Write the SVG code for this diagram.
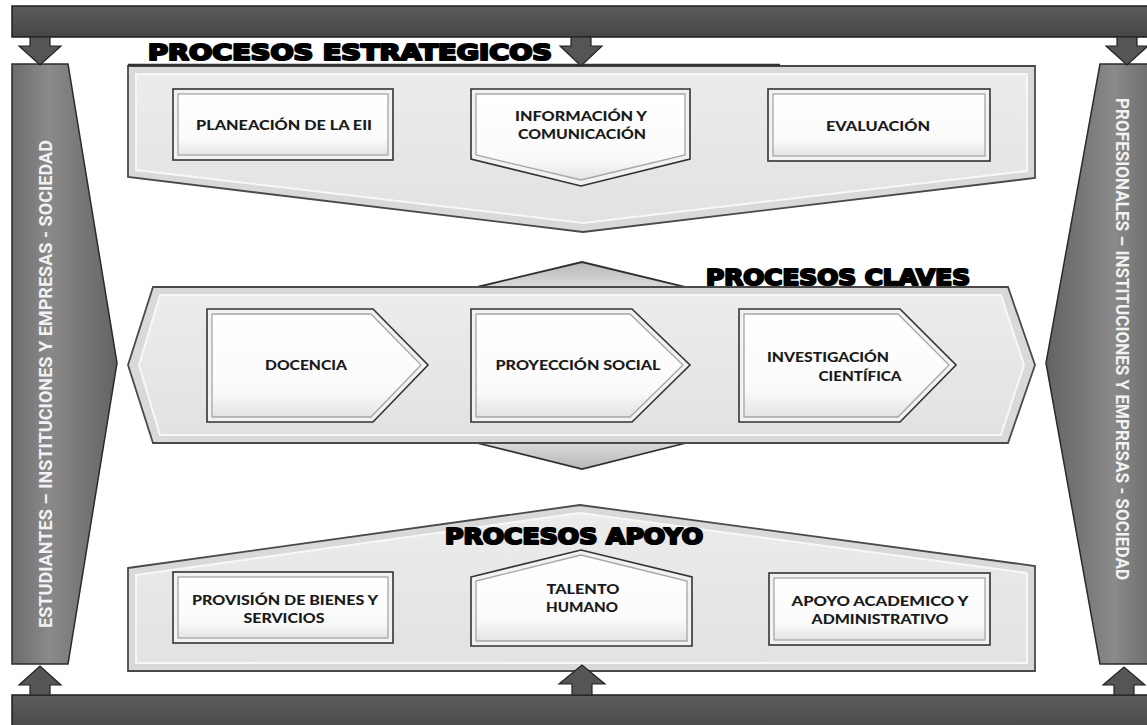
<svg xmlns="http://www.w3.org/2000/svg" width="1147" height="725" viewBox="0 0 1147 725">
  <defs>
    <linearGradient id="barFill" x1="0" y1="0" x2="0" y2="1">
      <stop offset="0" stop-color="#5c5c5c"/>
      <stop offset="1" stop-color="#464646"/>
    </linearGradient>
    <linearGradient id="bannerFillL" x1="0" y1="0" x2="1" y2="0">
      <stop offset="0" stop-color="#6c6c6c"/>
      <stop offset="0.35" stop-color="#8a8a8a"/>
      <stop offset="1" stop-color="#636363"/>
    </linearGradient>
    <linearGradient id="bannerFillR" x1="1" y1="0" x2="0" y2="0">
      <stop offset="0" stop-color="#6c6c6c"/>
      <stop offset="0.35" stop-color="#8a8a8a"/>
      <stop offset="1" stop-color="#636363"/>
    </linearGradient>
    <linearGradient id="panelFace" x1="0" y1="0" x2="0" y2="1">
      <stop offset="0" stop-color="#ececec"/>
      <stop offset="1" stop-color="#e2e2e2"/>
    </linearGradient>
    <linearGradient id="boxFace" x1="0" y1="0" x2="0" y2="1">
      <stop offset="0" stop-color="#ffffff"/>
      <stop offset="0.75" stop-color="#fafafa"/>
      <stop offset="1" stop-color="#e4e4e4"/>
    </linearGradient>
    <linearGradient id="wingFill" x1="0" y1="0" x2="0" y2="1">
      <stop offset="0" stop-color="#b8b8b8"/>
      <stop offset="1" stop-color="#dcdcdc"/>
    </linearGradient>
    <linearGradient id="wingFillDown" x1="0" y1="1" x2="0" y2="0">
      <stop offset="0" stop-color="#b8b8b8"/>
      <stop offset="1" stop-color="#dcdcdc"/>
    </linearGradient>
    <style>
      .bar { fill: url(#barFill); stroke: #1e1e1e; stroke-width: 1.5; }
      .arrow { fill: #555555; stroke: #222222; stroke-width: 1.2; }
      .banner-l { fill: url(#bannerFillL); stroke: #2a2a2a; stroke-width: 1.5; }
      .banner-r { fill: url(#bannerFillR); stroke: #2a2a2a; stroke-width: 1.5; }
      .banner-text { font-family: Roboto, "Open Sans", "Liberation Sans", sans-serif; font-weight: 700; font-size: 18px; fill: #f2f2f2; }
      .panel { fill: #d9d9d9; stroke: #4a4a4a; stroke-width: 1.8; }
      .panel-inner { fill: url(#panelFace); stroke: #f7f7f7; stroke-width: 2; }
      .wing { stroke: #2e2e2e; stroke-width: 1.8; }
      .box { fill: #f2f2f2; stroke: #333333; stroke-width: 1.6; }
      .box-inner { fill: url(#boxFace); stroke: #a6a6a6; stroke-width: 1.3; }
      .title { font-family: "DejaVu Sans", "Liberation Sans", sans-serif; font-weight: 700; font-size: 22px; fill: #000000; stroke: #000000; stroke-width: 2.2; stroke-linejoin: round; }
      .label { font-family: Lato, "Open Sans", "Liberation Sans", sans-serif; font-weight: 900; font-size: 12.5px; fill: #1a1a1a; text-anchor: middle; }
    </style>
  </defs>

  <rect width="1147" height="725" fill="#ffffff"/>

  <!-- horizontal frame bars -->
  <g id="top-bar"><rect class="bar" x="12" y="6" width="1145" height="31"/></g>
  <g id="bottom-bar"><rect class="bar" x="12" y="695" width="1145" height="40"/></g>

  <!-- side banners -->
  <g id="banner-left">
    <polygon class="banner-l" points="12,64 68,64 117,363 68,664 12,664"/>
    <text class="banner-text" transform="translate(52,384) rotate(-90)" text-anchor="middle" textLength="488" lengthAdjust="spacingAndGlyphs">ESTUDIANTES – INSTITUCIONES Y EMPRESAS - SOCIEDAD</text>
  </g>
  <g id="banner-right">
    <polygon class="banner-r" points="1100,64 1152,64 1152,664 1100,664 1046,363"/>
    <text class="banner-text" transform="translate(1116,339) rotate(90)" text-anchor="middle" textLength="482" lengthAdjust="spacingAndGlyphs">PROFESIONALES – INSTITUCIONES Y EMPRESAS - SOCIEDAD</text>
  </g>

  <!-- strategic processes -->
  <g id="estrategicos">
    <path class="panel" d="M128,66 L1035,66 L1035,178 L583,232 L128,177 Z"/>
    <path class="panel-inner" d="M136,74 L1027,74 L1027,171 L583,223 L136,170 Z"/>
    <line x1="128" y1="65" x2="780" y2="65" stroke="#333333" stroke-width="2.5"/>
    <text class="title" x="148" y="60" textLength="404" lengthAdjust="spacingAndGlyphs">PROCESOS ESTRATEGICOS</text>
  </g>
  <g id="planeacion">
    <rect class="box" x="173" y="89" width="220" height="71"/>
    <rect class="box-inner" x="178" y="94" width="210" height="61"/>
    <text class="label" x="284" y="130" textLength="176" lengthAdjust="spacingAndGlyphs">PLANEACIÓN DE LA EII</text>
  </g>
  <g id="informacion">
    <path class="box" d="M471,89 L690,89 L690,159 L581,186 L471,159 Z"/>
    <path class="box-inner" d="M476,94 L685,94 L685,155 L581,180 L476,155 Z"/>
    <text class="label" x="581" y="121" textLength="132" lengthAdjust="spacingAndGlyphs">INFORMACIÓN Y</text>
    <text class="label" x="582" y="139" textLength="128" lengthAdjust="spacingAndGlyphs">COMUNICACIÓN</text>
  </g>
  <g id="evaluacion">
    <rect class="box" x="768" y="89" width="222" height="72"/>
    <rect class="box-inner" x="773" y="94" width="212" height="62"/>
    <text class="label" x="878" y="131" textLength="104" lengthAdjust="spacingAndGlyphs">EVALUACIÓN</text>
  </g>

  <!-- key processes -->
  <g id="claves">
    <path class="wing" fill="url(#wingFill)" d="M473,288 L582,262 L690,288 Z"/>
    <path class="wing" fill="url(#wingFillDown)" d="M473,442 L582,469 L690,442 Z"/>
    <path class="panel" d="M128,365 L153,287 L1008,287 L1035,365 L1008,443 L153,443 Z"/>
    <path class="panel-inner" d="M139,365 L160,295 L1001,295 L1024,365 L1001,435 L160,435 Z"/>
    <text class="title" x="706" y="285" textLength="264" lengthAdjust="spacingAndGlyphs">PROCESOS CLAVES</text>
  </g>
  <g id="docencia">
    <path class="box" d="M207,309 L373,309 L428,365 L373,422 L207,422 Z"/>
    <path class="box-inner" d="M212,314 L371,314 L421,365 L371,417 L212,417 Z"/>
    <text class="label" x="306" y="370" textLength="82" lengthAdjust="spacingAndGlyphs">DOCENCIA</text>
  </g>
  <g id="proyeccion">
    <path class="box" d="M471,309 L632,309 L690,365 L632,422 L471,422 Z"/>
    <path class="box-inner" d="M476,314 L630,314 L683,365 L630,417 L476,417 Z"/>
    <text class="label" x="578" y="370" textLength="165" lengthAdjust="spacingAndGlyphs">PROYECCIÓN SOCIAL</text>
  </g>
  <g id="investigacion">
    <path class="box" d="M739,309 L900,309 L956,365 L900,422 L739,422 Z"/>
    <path class="box-inner" d="M744,314 L898,314 L949,365 L898,417 L744,417 Z"/>
    <text class="label" x="828" y="362" textLength="122" lengthAdjust="spacingAndGlyphs">INVESTIGACIÓN</text>
    <text class="label" x="860" y="381" textLength="83" lengthAdjust="spacingAndGlyphs">CIENTÍFICA</text>
  </g>

  <!-- support processes -->
  <g id="apoyo">
    <path class="panel" d="M128,568 L580,505 L1035,566 L1035,671 L128,671 Z"/>
    <path class="panel-inner" d="M136,575 L580,513 L1027,573 L1027,663 L136,663 Z"/>
    <text class="title" x="445" y="544" textLength="258" lengthAdjust="spacingAndGlyphs">PROCESOS APOYO</text>
  </g>
  <g id="provision">
    <rect class="box" x="173" y="572" width="220" height="71"/>
    <rect class="box-inner" x="178" y="577" width="210" height="61"/>
    <text class="label" x="285" y="605" textLength="186" lengthAdjust="spacingAndGlyphs">PROVISIÓN DE BIENES Y</text>
    <text class="label" x="284" y="623" textLength="81" lengthAdjust="spacingAndGlyphs">SERVICIOS</text>
  </g>
  <g id="talento">
    <path class="box" d="M471,577 L581,550 L692,577 L692,646 L471,646 Z"/>
    <path class="box-inner" d="M476,581 L581,555 L687,581 L687,641 L476,641 Z"/>
    <text class="label" x="583" y="594" textLength="73" lengthAdjust="spacingAndGlyphs">TALENTO</text>
    <text class="label" x="582" y="612" textLength="72" lengthAdjust="spacingAndGlyphs">HUMANO</text>
  </g>
  <g id="apoyo-academico">
    <rect class="box" x="769" y="573" width="221" height="72"/>
    <rect class="box-inner" x="774" y="578" width="211" height="62"/>
    <text class="label" x="880" y="606" textLength="177" lengthAdjust="spacingAndGlyphs">APOYO ACADEMICO Y</text>
    <text class="label" x="880" y="624" textLength="137" lengthAdjust="spacingAndGlyphs">ADMINISTRATIVO</text>
  </g>

  <!-- block arrows from the frame bars -->
  <g id="connectors">
    <path class="arrow" d="M30,37 L50,37 L50,46 L61,46 L40,65 L19,46 L30,46 Z"/>
    <path class="arrow" d="M571,37 L591,37 L591,46 L602,46 L581,66 L560,46 L571,46 Z"/>
    <path class="arrow" d="M1117,37 L1137,37 L1137,46 L1148,46 L1127,65 L1106,46 L1117,46 Z"/>
    <path class="arrow" d="M30,695 L50,695 L50,685 L61,685 L40,666 L19,685 L30,685 Z"/>
    <path class="arrow" d="M572,695 L592,695 L592,684 L605,684 L582,665 L559,684 L572,684 Z"/>
    <path class="arrow" d="M1114,695 L1134,695 L1134,685 L1145,685 L1124,667 L1103,685 L1114,685 Z"/>
  </g>
</svg>
